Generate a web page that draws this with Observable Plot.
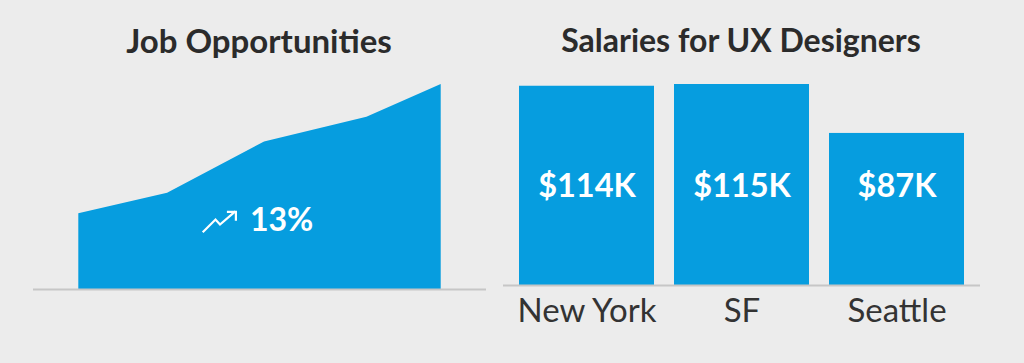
<!DOCTYPE html>
<html>
<head>
<meta charset="utf-8">
<script src="https://cdn.jsdelivr.net/npm/d3@7"></script>
<script src="https://cdn.jsdelivr.net/npm/@observablehq/plot@0.6"></script>
<style>
  html, body { margin: 0; padding: 0; background: #ececec; }
  #wrap { position: relative; width: 1024px; height: 363px; overflow: hidden; background: #ececec; font-family: Lato, "Noto Sans", sans-serif; }
  .title { position: absolute; top: 25px; font-weight: 700; color: #2b2b2b; text-align: center; line-height: 30px; white-space: nowrap; }
  #left, #right { position: absolute; top: 0; }
  #left { left: 0; }
  #right { left: 490px; }
</style>
</head>
<body>
<div id="wrap">
  <div class="title" style="left:0;width:518px;font-size:33px;">Job Opportunities</div>
  <div class="title" style="left:482px;width:518px;font-size:32px;">Salaries for UX Designers</div>
  <div id="left"></div>
  <div id="right"></div>
</div>
<script>
// ---- Data ----
const periods = [0, 0.98, 2.05, 3.18, 4];
const jobIndex = [37, 47, 72, 84, 100];
const growthLabel = "13%";

const cities = ["New York", "SF", "Seattle"];
const salaries = [114, 115, 87];
const salaryLabels = ["$114K", "$115K", "$87K"];

// ---- Style ----
const BLUE = "#069ddf";
const RULE = "#c6c6c6";
const FONT = 'Lato, "Noto Sans", sans-serif';

const jobData = periods.map((p, i) => ({x: p, v: jobIndex[i]}));
const salaryData = cities.map((c, i) => ({city: c, value: salaries[i], label: salaryLabels[i]}));

// trending-up icon, drawn relative to the frame centre
function trendIcon(index, scales, values, dimensions) {
  const cx = (dimensions.marginLeft + dimensions.width - dimensions.marginRight) / 2;
  const cy = (dimensions.marginTop + dimensions.height - dimensions.marginBottom) / 2;
  const g = d3.create("svg:g").attr("transform", `translate(${cx},${cy})`)
    .attr("fill", "none").attr("stroke", "white").attr("stroke-width", 2.2)
    .attr("stroke-linecap", "square").attr("stroke-linejoin", "miter");
  g.append("path").attr("d", "M-56,45 L-44,33 L-39.5,38 L-25,25.6");
  g.append("path").attr("d", "M-31.5,25.4 L-23.6,25.4 L-23.6,33.2");
  return g.node();
}

const left = Plot.plot({
  width: 512, height: 363,
  marginLeft: 33, marginRight: 26, marginTop: 84, marginBottom: 74,
  x: {domain: [-0.5, 4.5], axis: null},
  y: {domain: [0, 100], axis: null},
  style: {background: "transparent", fontFamily: FONT},
  marks: [
    Plot.areaY(jobData, {x: "x", y: "v", fill: BLUE}),
    Plot.ruleY([0], {stroke: RULE, strokeWidth: 2}),
    Plot.text([growthLabel], {frameAnchor: "middle", dx: -10, dy: 34, textAnchor: "start",
      fill: "white", fontSize: 32, fontWeight: 700}),
    trendIcon
  ]
});
document.getElementById("left").appendChild(left);

const right = Plot.plot({
  width: 534, height: 363,
  marginLeft: 13, marginRight: 44, marginTop: 84, marginBottom: 78,
  x: {domain: cities, paddingInner: 0.13, paddingOuter: 0.1},
  y: {domain: [0, 115], axis: null},
  style: {background: "transparent", fontFamily: FONT},
  marks: [
    Plot.barY(salaryData, {x: "city", y: "value", fill: BLUE}),
    Plot.ruleY([0], {stroke: RULE, strokeWidth: 2}),
    Plot.axisX({tickSize: 0, tickPadding: 13, fontSize: 33, fill: "#333", label: null}),
    Plot.text(salaryData, {x: "city", text: "label", frameAnchor: "middle", dy: 2,
      fill: "white", fontSize: 32.5, fontWeight: 700})
  ]
});
document.getElementById("right").appendChild(right);
</script>
</body>
</html>
